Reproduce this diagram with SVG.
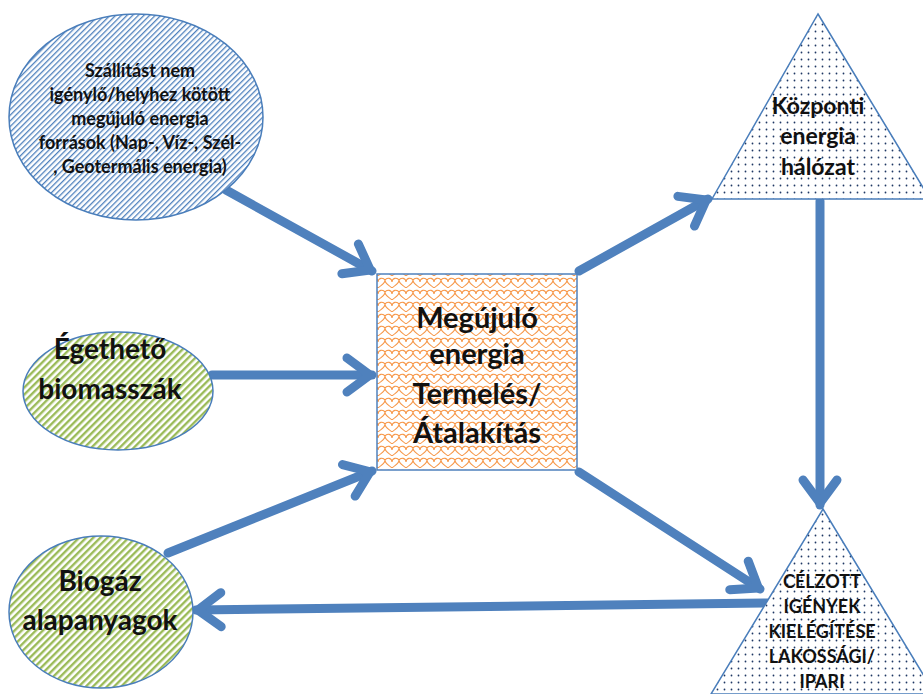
<svg xmlns="http://www.w3.org/2000/svg" width="923" height="694" viewBox="0 0 923 694">
<style>
.t{font-family:Lato,"Liberation Sans","DejaVu Sans",sans-serif;font-weight:bold;fill:#111;text-anchor:middle}
.conn{stroke:#4F81BD;stroke-width:9;fill:none;stroke-linecap:round;marker-end:url(#ah)}
.outline{stroke:#4A7EBB;stroke-width:1.5}
</style>
<defs>
<pattern id="hBlue" width="4" height="4" patternUnits="userSpaceOnUse" patternTransform="rotate(45)">
<rect width="4" height="4" fill="#fff"/><rect width="1.3" height="4" fill="#4F81BD"/>
</pattern>
<pattern id="hGreen" width="5" height="5" patternUnits="userSpaceOnUse" patternTransform="rotate(45)">
<rect width="5" height="5" fill="#fff"/><rect width="2.4" height="5" fill="#9BBB59"/>
</pattern>
<pattern id="scale" width="14" height="12" patternUnits="userSpaceOnUse">
<rect width="14" height="12" fill="#fff"/>
<path d="M0,6 C0,2 5,1 7,4 C9,1 14,2 14,6 M7,4 C7,8 3,9 0,12 M7,4 C7,8 11,9 14,12" fill="none" stroke="#F79646" stroke-width="1.1"/>
</pattern>
<pattern id="dots" width="7" height="7" patternUnits="userSpaceOnUse">
<rect width="7" height="7" fill="#fff"/><circle cx="3.5" cy="3.5" r="0.9" fill="#1F3864"/>
</pattern>
<marker id="ah" markerUnits="userSpaceOnUse" markerWidth="50" markerHeight="50" viewBox="0 0 50 50" refX="38" refY="25" orient="auto">
<path d="M13,8 L36,25 L13,42" fill="none" stroke="#4F81BD" stroke-width="9" stroke-linecap="round" stroke-linejoin="round"/>
</marker>
</defs>

<g id="connectors">
<path class="conn" d="M226,190 L372,271"/>
<path class="conn" d="M212,375 L372,375"/>
<path class="conn" d="M168,553 L372,471"/>
<path class="conn" d="M579,271 L708,199"/>
<path class="conn" d="M579,472 L760,589"/>
<path class="conn" d="M820,201 L820,505"/>
<path class="conn" d="M768,603 L196,610"/>
</g>

<g id="n-forrasok">
<ellipse cx="136" cy="117" rx="127" ry="103" fill="url(#hBlue)" class="outline"/>
<text class="t" font-size="18"><tspan x="140" y="77">Szállítást nem</tspan><tspan x="140" y="101">igénylő/helyhez kötött</tspan><tspan x="140" y="125">megújuló energia</tspan><tspan x="140" y="149">források (Nap-, Víz-, Szél-</tspan><tspan x="140" y="173">, Geotermális energia)</tspan></text>
</g>

<g id="n-egetheto">
<ellipse cx="118" cy="391" rx="95" ry="59" fill="url(#hGreen)" class="outline"/>
<text class="t" font-size="28"><tspan x="110" y="359">Égethető</tspan><tspan x="110" y="399">biomasszák</tspan></text>
</g>

<g id="n-biogaz">
<ellipse cx="101" cy="612" rx="92" ry="76" fill="url(#hGreen)" class="outline"/>
<text class="t" font-size="28"><tspan x="100" y="591">Biogáz</tspan><tspan x="100" y="630">alapanyagok</tspan></text>
</g>

<g id="n-termeles">
<rect x="377" y="274" width="200" height="196" fill="url(#scale)" stroke="#4F81BD" stroke-width="1.5"/>
<text class="t" font-size="29"><tspan x="477" y="328">Megújuló</tspan><tspan x="477" y="364">energia</tspan><tspan x="477" y="404">Termelés/</tspan><tspan x="477" y="443">Átalakítás</tspan></text>
</g>

<g id="n-halozat">
<polygon points="818,14 930,199 712,199" fill="url(#dots)" class="outline"/>
<text class="t" font-size="23"><tspan x="818" y="114">Központi</tspan><tspan x="818" y="144">energia</tspan><tspan x="818" y="175">hálózat</tspan></text>
</g>

<g id="n-igenyek">
<polygon points="823,509 935,694 711,694" fill="url(#dots)" class="outline"/>
<text class="t" font-size="18"><tspan x="822" y="588">CÉLZOTT</tspan><tspan x="822" y="613">IGÉNYEK</tspan><tspan x="822" y="638">KIELÉGÍTÉSE</tspan><tspan x="822" y="663">LAKOSSÁGI/</tspan><tspan x="822" y="688">IPARI</tspan></text>
</g>
</svg>
